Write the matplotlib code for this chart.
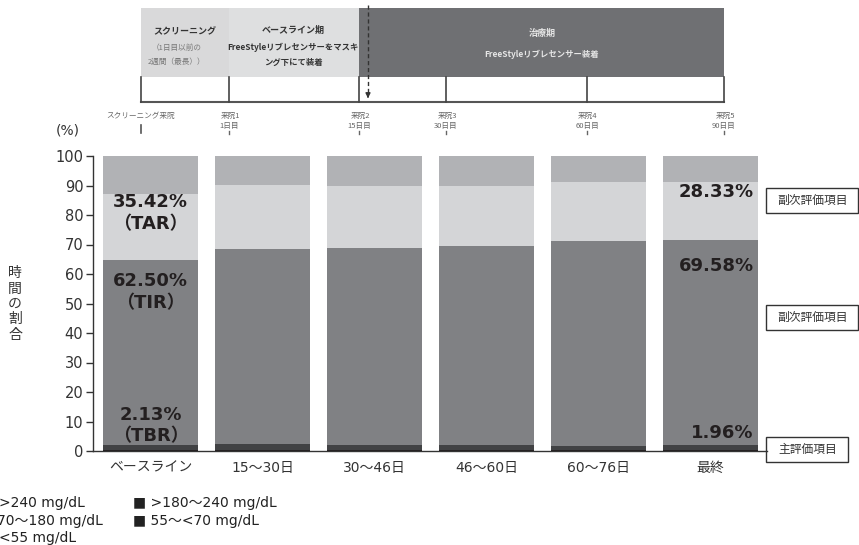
import matplotlib
matplotlib.use('Agg')
import matplotlib.pyplot as plt
from matplotlib.patches import Rectangle
import numpy as np

plt.rcParams['font.family'] = ['DejaVu Sans', 'Noto Sans CJK JP']

# 期間ごとの血糖値レンジ別時間割合 (%)
periods = ['ベースライン', '15～30日', '30～46日', '46～60日', '60～76日', '最終']
over240 = [13.10, 9.8, 10.2, 10.2, 8.8, 8.83]
r180_240 = [22.32, 21.6, 20.9, 20.3, 20.0, 19.50]
r70_180 = [62.50, 66.1, 66.9, 67.5, 69.5, 69.58]
r55_70 = [1.70, 2.0, 1.6, 1.6, 1.35, 1.55]
under55 = [0.43, 0.5, 0.4, 0.4, 0.35, 0.41]

ranges = ['>240 mg/dL', '>180～240 mg/dL', '70～180 mg/dL', '55～<70 mg/dL', '<55 mg/dL']
colors = ['#b1b2b5', '#d4d5d7', '#808184', '#414244', '#231f20']

# 試験スケジュール
visit_names = ['スクリーニング来院', '来院1', '来院2', '来院3', '来院4', '来院5']
visit_days = ['', '1日目', '15日目', '30日目', '60日目', '90日目']

W, H = 859, 545
fig = plt.figure(figsize=(W / 100, H / 100), dpi=100)

# 全体に重ねるピクセル座標の軸 (スケジュール図・注記・凡例用)
ov = fig.add_axes([0, 0, 1, 1], zorder=0)
ov.set_xlim(0, W)
ov.set_ylim(H, 0)
ov.axis('off')

ax = fig.add_axes([93 / W, (H - 451) / H, (767 - 93) / W, (451 - 156) / H], zorder=1)
ax.set_facecolor('none')

x = np.arange(len(periods))
stack = [under55, r55_70, r70_180, r180_240, over240]
stack_colors = colors[::-1]
bottom = np.zeros(len(periods))
for vals, c in zip(stack, stack_colors):
    ax.bar(x, vals, width=0.85, bottom=bottom, color=c, linewidth=0)
    bottom += np.array(vals)

ax.set_xlim(-0.513, 5.505)
ax.set_ylim(0, 100)
ax.set_yticks(range(0, 101, 10))
ax.set_xticks(x)
ax.set_xticklabels(periods, fontsize=10, color='#333333')
ax.tick_params(axis='x', length=0, pad=7)
ax.tick_params(axis='y', length=5, width=1, color='#333333', labelsize=10.5, labelcolor='#333333', pad=2)
for s in ['top', 'right']:
    ax.spines[s].set_visible(False)
for s in ['left', 'bottom']:
    ax.spines[s].set_color('#333333')
    ax.spines[s].set_linewidth(1)

# 値ラベル
tar = [a + b for a, b in zip(over240, r180_240)]
tbr = [a + b for a, b in zip(r55_70, under55)]
tir_top = [a + b for a, b in zip(tbr, r70_180)]
tar_top = [a + b for a, b in zip(tir_top, r180_240)]
lab = dict(fontsize=13, fontweight='bold', color='#231f20', va='center')

ax.text(0, tar_top[0] - 2.5, f'{tar[0]:.2f}%', ha='center', **lab)
ax.text(0, tar_top[0] - 9.9, '（TAR）', ha='center', **lab)
ax.text(0, tir_top[0] - 7.0, f'{r70_180[0]:.2f}%', ha='center', **lab)
ax.text(0, tir_top[0] - 14.4, '（TIR）', ha='center', **lab)
ax.text(0, 12.2, f'{tbr[0]:.2f}%', ha='center', **lab)
ax.text(0, 5.1, '（TBR）', ha='center', **lab)

xr = 5 + 0.425 - 0.04
ax.text(xr, tar_top[5] - 3.1, f'{tar[5]:.2f}%', ha='right', **lab)
ax.text(xr, tir_top[5] - 8.8, f'{r70_180[5]:.2f}%', ha='right', **lab)
ax.text(xr, 6.1, f'{tbr[5]:.2f}%', ha='right', **lab)

# 縦軸タイトル
ov.text(68, 131, '(%)', fontsize=10, color='#333333', ha='center', va='center')
for i, ch in enumerate('時間の割合'):
    ov.text(15, 273 + i * 15.5, ch, fontsize=10, color='#333333', ha='center', va='center',
            family='Noto Sans CJK JP')

# 評価項目の注記
for y0, y1, x1, txt in [(188, 213, 858, '副次評価項目'), (305, 330, 858, '副次評価項目'),
                        (437, 462, 848, '主評価項目')]:
    ov.add_patch(Rectangle((766, y0), x1 - 766, y1 - y0, facecolor='white',
                           edgecolor='#333333', lw=1))
    ov.text((766 + x1) / 2 + 1, (y0 + y1) / 2, txt, fontsize=8.5, color='#333333',
            ha='center', va='center', family='Noto Sans CJK JP')

# 凡例
leg = dict(fontsize=10, color='#222222', va='center')
ov.text(-1, 503, ranges[0], ha='left', **leg)
ov.text(-3, 521, ranges[2], ha='left', **leg)
ov.text(-1, 538, ranges[4], ha='left', **leg)
ov.text(133, 503, '■ ' + ranges[1], ha='left', **leg)
ov.text(133, 521, '■ ' + ranges[3], ha='left', **leg)

# スケジュール図
jp = 'Noto Sans CJK JP'
vx = [141, 229, 359, 446, 587, 724]
ov.add_patch(Rectangle((vx[0], 8), vx[1] - vx[0], 69, facecolor='#d9d9da', lw=0))
ov.add_patch(Rectangle((vx[1], 8), vx[2] - vx[1], 69, facecolor='#dedfe0', lw=0))
ov.add_patch(Rectangle((vx[2], 8), vx[5] - vx[2], 69, facecolor='#6f7073', lw=0))

ov.text(185, 32, 'スクリーニング', fontsize=6.5, fontweight='bold', color='#333333',
        ha='center', va='center', family=jp)
ov.text(177, 48, '（1日目以前の', fontsize=5.5, color='#777777', ha='center', va='center', family=jp)
ov.text(177, 62, '2週間（最長））', fontsize=5.5, color='#777777', ha='center', va='center', family=jp)
ov.text(293, 30, 'ベースライン期', fontsize=6.5, fontweight='bold', color='#333333',
        ha='center', va='center', family=jp)
ov.text(293, 47, 'FreeStyleリブレセンサーをマスキ', fontsize=6, fontweight='bold', color='#333333',
        ha='center', va='center', family=jp)
ov.text(293, 62, 'ング下にて装着', fontsize=6, fontweight='bold', color='#333333',
        ha='center', va='center', family=jp)
ov.text(542, 33, '治療期', fontsize=6.5, fontweight='bold', color='#e6e6e6',
        ha='center', va='center', family=jp)
ov.text(542, 54, 'FreeStyleリブレセンサー装着', fontsize=6, fontweight='bold', color='#e6e6e6',
        ha='center', va='center', family=jp)

ov.plot([vx[0], vx[5]], [102, 102], color='#555555', lw=1.5)
for xv, nm, dy in zip(vx, visit_names, visit_days):
    ov.plot([xv, xv], [77, 102], color='#444444', lw=1.2)
    ov.text(xv + (1 if xv != vx[0] else 0), 116, nm, fontsize=5.5, color='#666666',
            ha='center', va='center', family=jp)
    if dy:
        ov.text(xv, 126, dy, fontsize=5.5, color='#666666', ha='center', va='center', family=jp)
        ov.plot([xv, xv], [131, 134], color='#666666', lw=1)
    else:
        ov.plot([xv, xv], [125, 133], color='#555555', lw=1.2)

ov.plot([368, 368], [5, 93], color='#333333', lw=1, ls=(0, (3, 2)))
ov.annotate('', xy=(368, 101), xytext=(368, 93),
            arrowprops=dict(arrowstyle='-|>', color='#333333', lw=1, mutation_scale=7))

fig.savefig('out.png', dpi=100)
